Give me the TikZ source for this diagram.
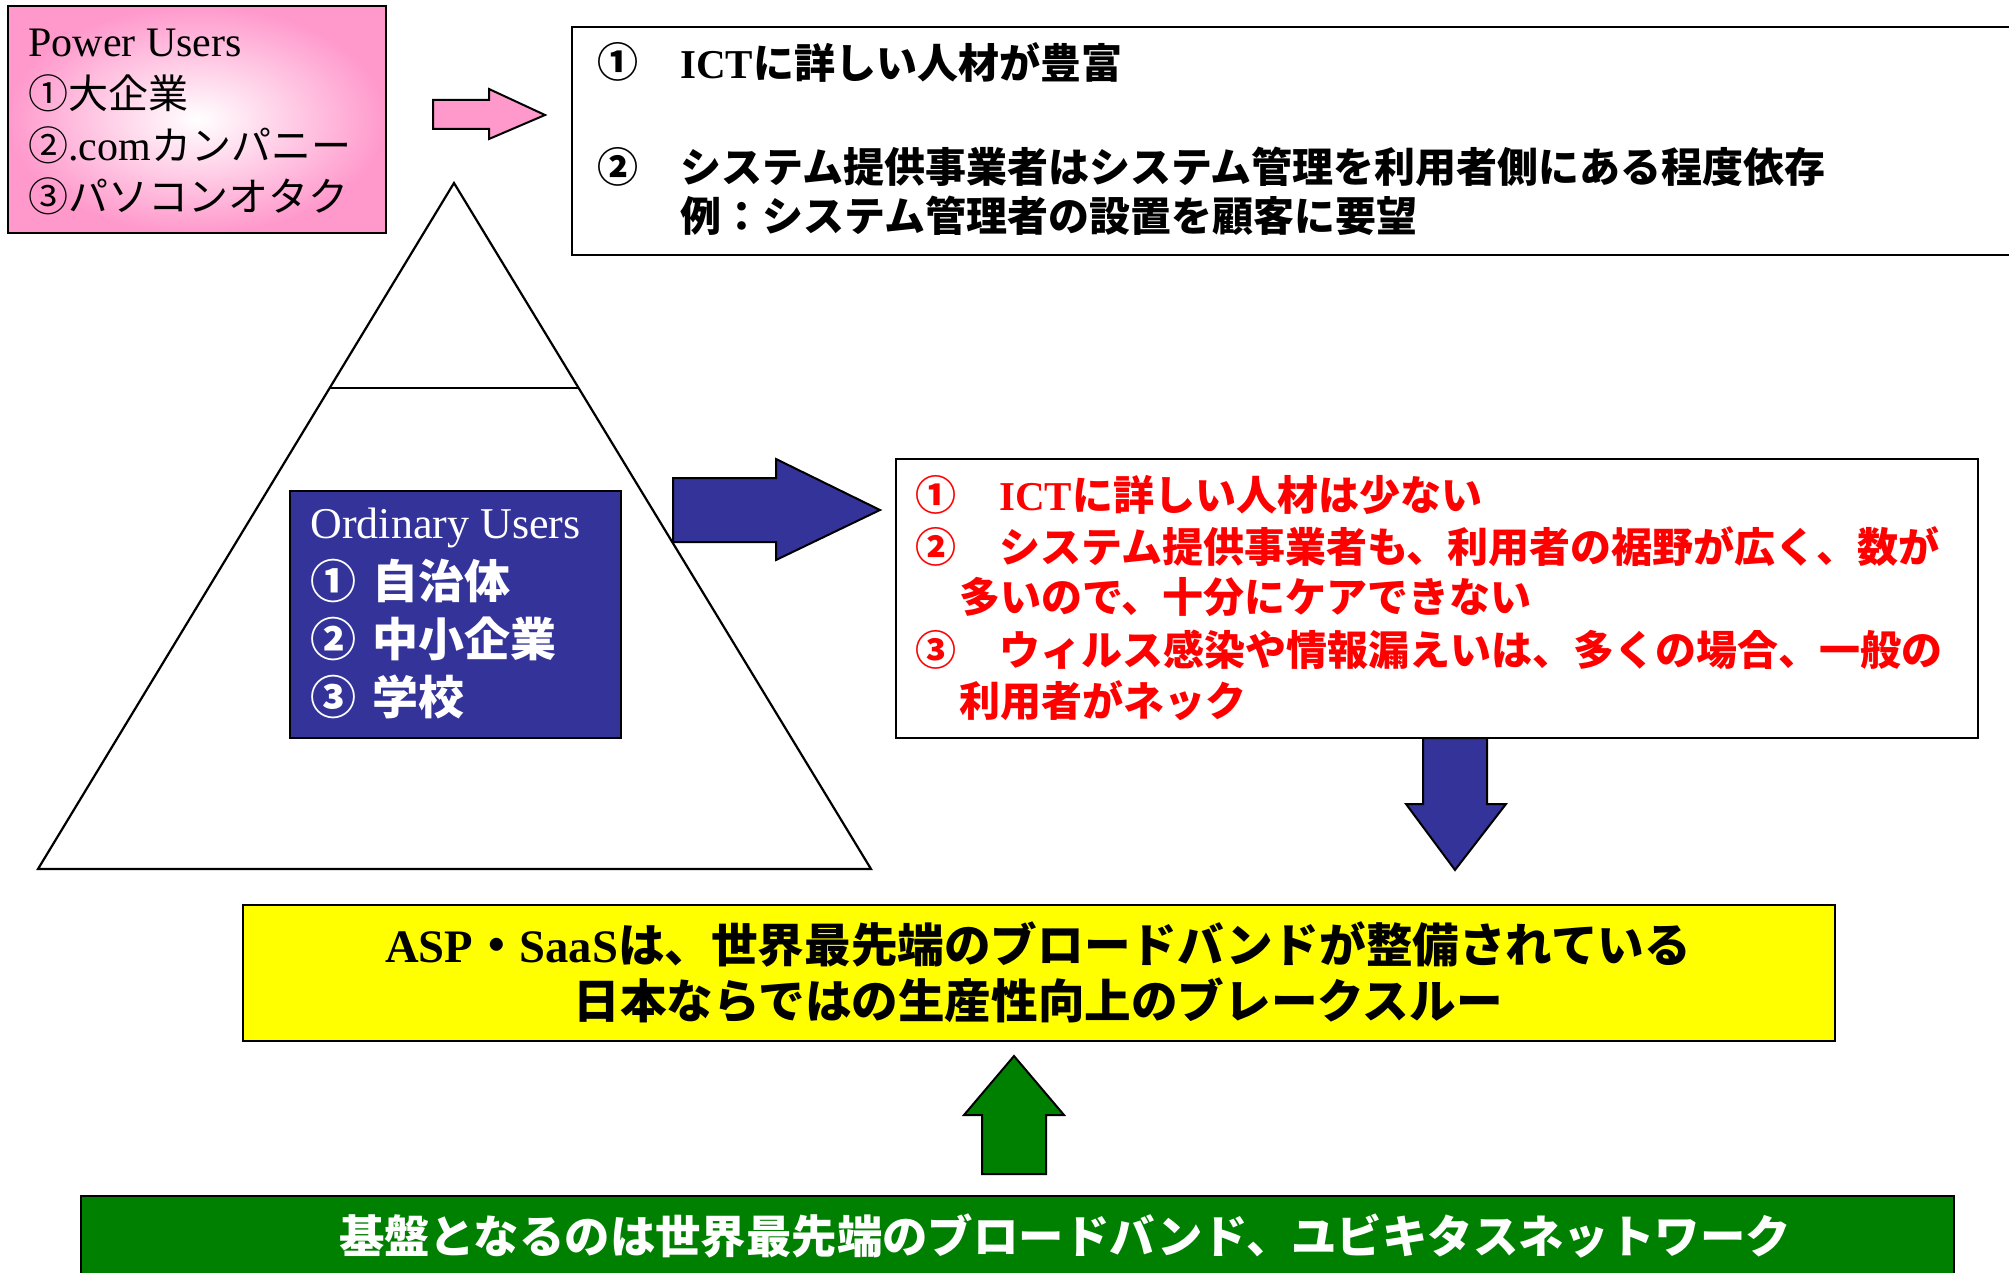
\documentclass[tikz,border=0pt]{standalone}
\usepackage{fontspec}
\setmainfont{Liberation Serif}
\newfontfamily\jp{Noto Sans CJK JP}
\newfontfamily\lat{Liberation Serif}
\usetikzlibrary{fit}
\definecolor{pinkc}{HTML}{FF99CC}
\definecolor{bluec}{HTML}{333399}
\definecolor{greenc}{HTML}{008000}
\definecolor{yellowc}{HTML}{FFFF00}
\definecolor{redc}{HTML}{FF0000}
\begin{document}
\begin{tikzpicture}[x=0.5pt,y=-0.5pt,
  frame/.style={draw=black,line width=1.3pt,inner sep=0pt},
  txt/.style={anchor=west,inner sep=0pt},
  ctr/.style={anchor=center,inner sep=0pt},
  blk/.style={draw=black,line width=1pt,line join=miter},
  pufont/.style={font=\fontsize{20}{24}\selectfont\jp},
  topfont/.style={font=\fontsize{20.5}{24}\selectfont\jp\bfseries},
  redfont/.style={font=\fontsize{20.5}{24}\selectfont\jp\bfseries,text=redc},
  ordfont/.style={font=\fontsize{23}{27}\selectfont\jp\bfseries,text=white}
]
\useasboundingbox (0,0) rectangle (2009,1273);
\fill[white] (0,0) rectangle (2009,1273);

% Power users box
\node[frame,fit={(8,6)(386,233)},shade,shading=radial,inner color=white,outer color=pinkc] (pink) {};
\node[txt,font=\fontsize{21}{25}\selectfont\lat] (pu0) at (28,43) {Power Users};
\node[txt,pufont] (pu1) at (28,93) {①大企業};
\node[txt,pufont] (pu2) at (28,145) {②{\lat\fontsize{21}{25}\selectfont .com}カンパニー};
\node[txt,pufont] (pu3) at (28,196) {③パソコンオタク};

% pink arrow
\draw[blk,fill=pinkc] (433,100) -- (489,100) -- (489,89) -- (545,115) -- (489,139) -- (489,129) -- (433,129) -- cycle;

% top right box
\node[frame,fit={(572,27)(2030,255)},fill=white] (top) {};
\node[txt,topfont] (tn1) at (597,62) {①};
\node[txt,topfont] (tt1) at (680,62) {{\lat ICT}に詳しい人材が豊富};
\node[txt,topfont] (tn2) at (597,167) {②};
\node[txt,topfont] (tt2) at (680,167) {システム提供事業者はシステム管理を利用者側にある程度依存};
\node[txt,topfont] (tt3) at (680,216) {例：システム管理者の設置を顧客に要望};

% pyramid
\coordinate (apex) at (454,183);
\coordinate (bl) at (38,869);
\coordinate (br) at (871,869);
\draw[line width=1.1pt,line join=miter] (apex) -- (br) -- (bl) -- cycle;
\coordinate (dl) at (330,388);
\coordinate (dr) at (578,388);
\draw[line width=1.1pt] (dl) -- (dr);

% ordinary users box
\node[frame,fit={(290,491)(621,738)},fill=bluec] (ord) {};
\node[txt,font=\fontsize{22}{26}\selectfont\lat,text=white] (ou0) at (310,528) {Ordinary Users};
\node[txt,ordfont] (ou1) at (310,581) {①\hspace{0.35em}自治体};
\node[txt,ordfont] (ou2) at (310,639) {②\hspace{0.35em}中小企業};
\node[txt,ordfont] (ou3) at (310,697) {③\hspace{0.35em}学校};

% blue arrow right
\draw[blk,fill=bluec] (673,478) -- (776,478) -- (776,459) -- (880,510) -- (776,560) -- (776,542) -- (673,542) -- cycle;

% red box
\node[frame,fit={(896,459)(1978,738)},fill=white] (red) {};
\node[txt,redfont] (rn1) at (915,495) {①};
\node[txt,redfont] (rt1) at (999,495) {{\lat ICT}に詳しい人材は少ない};
\node[txt,redfont] (rn2) at (915,547) {②};
\node[txt,redfont] (rt2) at (999,547) {システム提供事業者も、利用者の裾野が広く、数が};
\node[txt,redfont] (rt3) at (959,597) {多いので、十分にケアできない};
\node[txt,redfont] (rn3) at (915,650) {③};
\node[txt,redfont] (rt4) at (999,650) {ウィルス感染や情報漏えいは、多くの場合、一般の};
\node[txt,redfont] (rt5) at (959,701) {利用者がネック};

% blue down arrow
\draw[blk,fill=bluec] (1423,738) -- (1487,738) -- (1487,804) -- (1506,804) -- (1455,870) -- (1406,804) -- (1423,804) -- cycle;

% yellow box
\node[frame,fit={(243,905)(1835,1041)},fill=yellowc] (yel) {};
\node[ctr,font=\fontsize{23.3}{27}\selectfont\jp\bfseries] (y1) at (1038,944) {{\lat ASP}・{\lat SaaS}は、世界最先端のブロードバンドが整備されている};
\node[ctr,font=\fontsize{23.3}{27}\selectfont\jp\bfseries] (y2) at (1038,1000) {日本ならではの生産性向上のブレークスルー};

% green arrow
\draw[blk,fill=greenc] (982,1174) -- (982,1115) -- (964,1115) -- (1014,1056) -- (1064,1115) -- (1046,1115) -- (1046,1174) -- cycle;

% green box
\node[frame,fit={(81,1196)(1954,1300)},fill=greenc] (grn) {};
\node[ctr,font=\fontsize{22.7}{27}\selectfont\jp\bfseries,text=white] (g1) at (1065,1236) {基盤となるのは世界最先端のブロードバンド、ユビキタスネットワーク};
\end{tikzpicture}
\end{document}
